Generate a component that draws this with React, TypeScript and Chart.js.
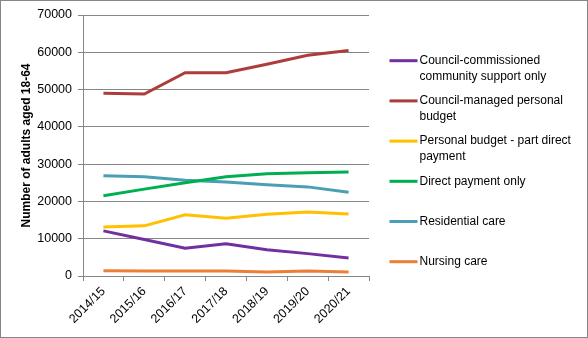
import React, { useEffect, useRef } from "react";
import { Chart, registerables } from "chart.js";

Chart.register(...registerables);

const categories = ["2014/15", "2015/16", "2016/17", "2017/18", "2018/19", "2019/20", "2020/21"];
const yTicks = [0, 10000, 20000, 30000, 40000, 50000, 60000, 70000];

const communitySupport = [12100, 9800, 7450, 8650, 7050, 6000, 4850];
const councilManaged = [49000, 48800, 54500, 54500, 56800, 59200, 60500];
const partDirect = [13150, 13450, 16400, 15500, 16550, 17150, 16650];
const directOnly = [21500, 23300, 25000, 26600, 27400, 27700, 27900];
const residential = [26900, 26600, 25700, 25200, 24500, 23900, 22450];
const nursing = [1400, 1350, 1350, 1350, 1100, 1350, 1100];

const seriesLabels = [
  ["Council-commissioned", "community support only"],
  ["Council-managed personal", "budget"],
  ["Personal budget - part direct", "payment"],
  ["Direct payment only"],
  ["Residential care"],
  ["Nursing care"],
];
const seriesValues = [communitySupport, councilManaged, partDirect, directOnly, residential, nursing];
const seriesColors = ["#7030A0", "#AC3D3A", "#FFC000", "#00B050", "#4A9EB6", "#EC7F35"];

const FONT = "'Liberation Sans', Arial, sans-serif";

const legendPlugin = {
  id: "sideLegend",
  afterDraw(chart: any) {
    const ctx = chart.ctx;
    ctx.save();
    ctx.font = `12px ${FONT}`;
    ctx.textBaseline = "middle";
    ctx.textAlign = "left";
    chart.data.datasets.forEach((ds: any, i: number) => {
      const y = 59.7 + i * 40.2;
      ctx.fillStyle = ds.borderColor;
      ctx.fillRect(388.5, y - 1.5, 28, 3);
      ctx.fillStyle = "#000000";
      const lines: string[] = ds.legendLines;
      lines.forEach((t, j) => ctx.fillText(t, 418.5, y + j * 16));
    });
    ctx.restore();
  },
};

export default function App() {
  const ref = useRef<HTMLCanvasElement | null>(null);
  useEffect(() => {
    if (!ref.current) return;
    const chart = new Chart(ref.current, {
      type: "line",
      data: {
        labels: categories,
        datasets: seriesValues.map((vals, i) => ({
          label: seriesLabels[i].join(" "),
          legendLines: seriesLabels[i],
          data: vals,
          borderColor: seriesColors[i],
          backgroundColor: seriesColors[i],
          borderWidth: 3,
          pointRadius: 0,
          tension: 0,
          fill: false,
        })) as any,
      },
      options: {
        responsive: false,
        animation: false,
        layout: { padding: { top: 14, right: 218, bottom: 0, left: 0 } },
        plugins: {
          legend: { display: false },
          tooltip: { enabled: false },
        },
        scales: {
          x: {
            offset: true,
            grid: {
              offset: true,
              drawOnChartArea: false,
              drawTicks: true,
              tickLength: 5,
              color: "#868686",
            },
            border: { color: "#868686", width: 1 },
            ticks: {
              color: "#000000",
              font: { family: FONT, size: 12.5 },
              maxRotation: 45,
              minRotation: 45,
              padding: 3,
              autoSkip: false,
            },
            afterFit(scale: any) {
              scale.height = 61;
            },
          },
          y: {
            min: 0,
            max: 70000,
            afterBuildTicks(scale: any) {
              scale.ticks = yTicks.map((v) => ({ value: v }));
            },
            grid: { color: "#868686", tickLength: 5 },
            border: { color: "#868686", width: 1 },
            ticks: {
              color: "#000000",
              font: { family: FONT, size: 12.5 },
              padding: 6,
              callback: (v: any) => String(v),
            },
            title: {
              display: true,
              text: "Number of adults aged 18-64",
              color: "#000000",
              font: { family: FONT, size: 12, weight: "bold" },
              padding: { top: 18, bottom: 0 },
            },
            afterFit(scale: any) {
              scale.width = 82;
            },
          },
        },
      },
      plugins: [legendPlugin],
    });
    return () => chart.destroy();
  }, []);
  return (
    <div
      style={{
        position: "absolute",
        left: 0,
        top: 0,
        width: 588,
        height: 338,
        boxSizing: "border-box",
        border: "1px solid #868686",
        background: "#ffffff",
      }}
    >
      <canvas ref={ref} width={586} height={336} style={{ display: "block" }} />
    </div>
  );
}
